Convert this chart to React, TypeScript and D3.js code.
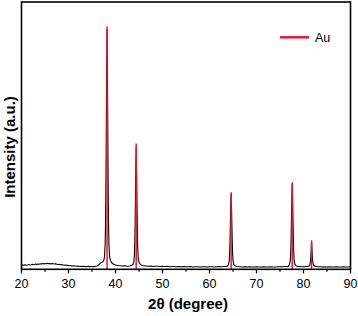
import React from "react";
import * as d3 from "d3";

// Measured XRD trace (2θ in degrees, intensity in arbitrary units)
const twoTheta: number[] = [
  20.0, 20.25, 20.5, 20.75, 21.0, 21.25, 21.5, 21.75, 22.0, 22.25, 22.5, 22.75, 23.0, 23.25, 23.5, 23.75,
  24.0, 24.25, 24.5, 24.75, 25.0, 25.25, 25.5, 25.75, 26.0, 26.25, 26.5, 26.75, 27.0, 27.25, 27.5, 27.75,
  28.0, 28.25, 28.5, 28.75, 29.0, 29.25, 29.5, 29.75, 30.0, 30.25, 30.5, 30.75, 31.0, 31.25, 31.5, 31.75,
  32.0, 32.25, 32.5, 32.75, 33.0, 33.25, 33.5, 33.75, 34.0, 34.25, 34.5, 34.75, 35.0, 35.25, 35.5, 35.75,
  36.0, 36.3, 36.6, 36.9, 37.1, 37.3, 37.5, 37.65, 37.8, 37.9, 37.98, 38.05, 38.12, 38.2, 38.28, 38.35,
  38.42, 38.5, 38.6, 38.75, 38.95, 39.2, 39.6, 40.0, 40.5, 41.0, 41.5, 42.0, 42.5, 43.0, 43.4, 43.7,
  43.9, 44.0, 44.1, 44.18, 44.25, 44.32, 44.4, 44.48, 44.55, 44.62, 44.7, 44.8, 45.0, 45.3, 45.7, 46.2,
  46.5, 47.0, 47.5, 48.0, 48.5, 49.0, 49.5, 50.0, 50.5, 51.0, 51.5, 52.0, 52.5, 53.0, 53.5, 54.0,
  54.5, 55.0, 55.5, 56.0, 56.5, 57.0, 57.5, 58.0, 58.5, 59.0, 59.5, 60.0, 60.5, 61.0, 61.5, 62.0,
  62.5, 63.0, 63.5, 63.8, 64.05, 64.2, 64.3, 64.38, 64.45, 64.52, 64.6, 64.68, 64.75, 64.82, 64.9, 65.0,
  65.15, 65.4, 65.8, 66.5, 67.0, 67.5, 68.0, 68.5, 69.0, 69.5, 70.0, 70.5, 71.0, 71.5, 72.0, 72.5,
  73.0, 73.5, 74.0, 74.5, 75.0, 75.5, 76.0, 76.5, 76.8, 77.05, 77.2, 77.3, 77.38, 77.45, 77.52, 77.6,
  77.68, 77.75, 77.82, 77.9, 78.0, 78.15, 78.4, 78.8, 79.2, 79.6, 80.0, 80.4, 80.8, 81.1, 81.3, 81.42,
  81.5, 81.57, 81.64, 81.72, 81.8, 81.87, 81.94, 82.02, 82.15, 82.4, 82.8, 83.2, 83.6, 84.0, 84.5, 85.0,
  85.5, 86.0, 86.5, 87.0, 87.5, 88.0, 88.5, 89.0, 89.5, 90.0,
];
const intensity: number[] = [
  15, 17, 16, 18, 16, 17, 19, 17, 18, 20, 18, 19, 21, 19, 21, 20,
  22, 21, 23, 21, 23, 22, 24, 22, 23, 21, 23, 22, 21, 22, 20, 19,
  20, 18, 19, 17, 17, 16, 17, 15, 15, 14, 15, 13, 14, 13, 13, 12,
  13, 12, 11, 12, 11, 12, 11, 10, 11, 12, 10, 11, 11, 10, 11, 12,
  13, 16, 22, 27, 28, 30, 36, 48, 100, 206, 380, 590, 790, 960, 790, 590,
  380, 206, 100, 50, 34, 26, 20, 17, 15, 14, 13, 14, 12, 13, 15, 19,
  28, 50, 105, 190, 300, 400, 490, 400, 300, 190, 105, 50, 28, 19, 15, 13,
  13, 12, 13, 11, 12, 12, 11, 12, 11, 12, 10, 11, 11, 10, 11, 10,
  11, 10, 10, 11, 9, 10, 10, 9, 10, 10, 9, 10, 10, 9, 10, 11,
  10, 11, 11, 12, 20, 37, 70, 124, 190, 256, 300, 256, 190, 124, 70, 37,
  20, 14, 11, 10, 9, 10, 9, 10, 9, 9, 10, 9, 9, 10, 9, 9,
  10, 9, 9, 10, 10, 10, 11, 11, 12, 21, 40, 78, 140, 214, 290, 340,
  290, 214, 140, 78, 40, 21, 14, 11, 11, 10, 10, 11, 11, 12, 16, 24,
  36, 55, 78, 110, 78, 55, 36, 24, 16, 12, 11, 10, 10, 9, 10, 9,
  10, 9, 9, 10, 9, 9, 10, 9, 9, 10,
];

// Au reference pattern
const auPositions: number[] = [38.2, 44.4, 64.6, 77.6, 81.72];
const auIntensities: number[] = [972, 504, 308, 348, 116];

const xMajorTicks: number[] = [20, 30, 40, 50, 60, 70, 80, 90];
const xMinorTicks: number[] = [25, 35, 45, 55, 65, 75, 85];

const legendLabel = "Au";
const xTitle = "2θ (degree)";
const yTitle = "Intensity (a.u.)";

const W = 358;
const H = 316;
const left = 21.5;
const right = 350.5;
const top = 2;
const bottom = 269.3;
const RED = "#f0142d";

export default function App() {
  const x = d3.scaleLinear().domain([20, 90]).range([left, right]);
  const y = d3.scaleLinear().domain([0, 1070]).range([bottom, top]);
  const pts: [number, number][] = twoTheta.map((t, i) => [t, intensity[i]]);
  const line = d3
    .line<[number, number]>()
    .x((d) => x(d[0]))
    .y((d) => y(d[1]));
  const font = "Liberation Sans, Arial, sans-serif";

  return (
    <svg
      width={W}
      height={H}
      style={{ position: "absolute", left: 0, top: 0, background: "#fff" }}
      fontFamily={font}
    >
      <rect x={0} y={0} width={W} height={H} fill="#fff" />
      <path d={line(pts) || ""} fill="none" stroke="#000" strokeWidth={1.1} strokeLinejoin="round" />
      {auPositions.map((p, i) => (
        <line
          key={p}
          x1={x(p)}
          x2={x(p)}
          y1={bottom}
          y2={y(auIntensities[i])}
          stroke={RED}
          strokeWidth={1.5}
        />
      ))}
      <rect
        x={left}
        y={top}
        width={right - left}
        height={bottom - top}
        fill="none"
        stroke="#000"
        strokeWidth={1.6}
      />
      {xMajorTicks.map((t) => (
        <g key={t}>
          <line x1={x(t)} x2={x(t)} y1={bottom} y2={bottom + 4} stroke="#000" strokeWidth={1.3} />
          <text x={x(t)} y={288} fontSize={12.5} textAnchor="middle" fill="#000">
            {t}
          </text>
        </g>
      ))}
      {xMinorTicks.map((t) => (
        <line key={t} x1={x(t)} x2={x(t)} y1={bottom} y2={bottom + 2.5} stroke="#000" strokeWidth={1.2} />
      ))}
      <text x={188} y={309} fontSize={15} fontWeight="bold" textAnchor="middle" fill="#000">
        {xTitle}
      </text>
      <text
        transform={`translate(14.5,147) rotate(-90)`}
        fontSize={15}
        fontWeight="bold"
        textAnchor="middle"
        fill="#000"
      >
        {yTitle}
      </text>
      <line x1={280} x2={309} y1={37.3} y2={37.3} stroke={RED} strokeWidth={2.5} />
      <text x={315} y={41.8} fontSize={12.5} fill="#000">
        {legendLabel}
      </text>
    </svg>
  );
}
